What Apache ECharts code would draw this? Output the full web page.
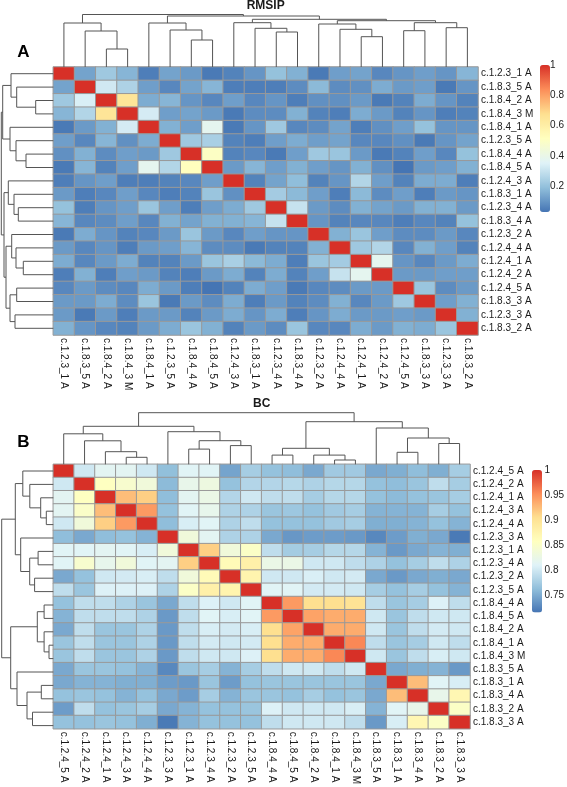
<!DOCTYPE html>
<html><head><meta charset="utf-8">
<script src="https://cdn.jsdelivr.net/npm/echarts@6/dist/echarts.min.js"></script>
<style>html,body{margin:0;padding:0;background:#fff}#c{width:567px;height:787px}</style>
</head><body><div id="c"></div>
<script>
// ---------------- DATA ----------------
const labelsA = ['c.1.2.3_1 A','c.1.8.3_5 A','c.1.8.4_2 A','c.1.8.4_3 M','c.1.8.4_1 A','c.1.2.3_5 A','c.1.8.4_4 A','c.1.8.4_5 A','c.1.2.4_3 A','c.1.8.3_1 A','c.1.2.3_4 A','c.1.8.3_4 A','c.1.2.3_2 A','c.1.2.4_4 A','c.1.2.4_1 A','c.1.2.4_2 A','c.1.2.4_5 A','c.1.8.3_3 A','c.1.2.3_3 A','c.1.8.3_2 A'];
const labelsB = ['c.1.2.4_5 A','c.1.2.4_2 A','c.1.2.4_1 A','c.1.2.4_3 A','c.1.2.4_4 A','c.1.2.3_3 A','c.1.2.3_1 A','c.1.2.3_4 A','c.1.2.3_2 A','c.1.2.3_5 A','c.1.8.4_4 A','c.1.8.4_5 A','c.1.8.4_2 A','c.1.8.4_1 A','c.1.8.4_3 M','c.1.8.3_5 A','c.1.8.3_1 A','c.1.8.3_4 A','c.1.8.3_2 A','c.1.8.3_3 A'];

// RMSIP matrix (rows top->bottom, columns left->right)
const rmsip = [
 [1,.13,.22,.17,.05,.13,.11,.04,.06,.10,.20,.16,.04,.12,.13,.07,.10,.12,.10,.17],
 [.13,1,.32,.25,.12,.07,.13,.17,.05,.05,.05,.08,.18,.08,.09,.15,.11,.12,.04,.10],
 [.22,.34,1,.65,.15,.17,.10,.07,.12,.07,.10,.05,.09,.09,.11,.04,.06,.15,.10,.06],
 [.17,.26,.65,1,.33,.12,.13,.11,.04,.08,.08,.16,.06,.05,.15,.11,.06,.10,.05,.06],
 [.04,.11,.16,.33,1,.16,.12,.38,.04,.10,.22,.07,.08,.13,.05,.09,.12,.20,.10,.10],
 [.12,.07,.17,.09,.15,1,.22,.24,.06,.05,.12,.15,.12,.13,.07,.07,.09,.04,.10,.13],
 [.09,.16,.08,.12,.11,.22,1,.50,.06,.07,.04,.12,.22,.21,.11,.04,.06,.12,.07,.20],
 [.04,.17,.06,.12,.38,.26,.52,1,.11,.17,.12,.16,.12,.10,.16,.09,.03,.11,.12,.16],
 [.05,.10,.12,.05,.05,.06,.07,.12,1,.06,.13,.19,.06,.10,.26,.12,.06,.15,.15,.05],
 [.11,.05,.07,.12,.07,.05,.06,.21,.09,1,.23,.18,.12,.05,.18,.08,.12,.05,.11,.10],
 [.20,.05,.10,.12,.21,.12,.05,.12,.15,.22,1,.30,.11,.08,.16,.13,.11,.16,.16,.11],
 [.17,.07,.08,.12,.07,.16,.13,.16,.16,.17,.30,1,.10,.06,.07,.07,.05,.07,.06,.20],
 [.04,.15,.10,.06,.07,.11,.21,.11,.07,.12,.10,.10,1,.16,.21,.12,.08,.08,.11,.07],
 [.11,.07,.10,.05,.11,.12,.17,.08,.08,.04,.06,.06,.16,1,.22,.26,.07,.16,.12,.06],
 [.15,.07,.11,.15,.06,.06,.11,.21,.24,.18,.15,.05,.21,.23,1,.38,.10,.07,.11,.15],
 [.05,.16,.05,.12,.11,.06,.05,.11,.15,.06,.15,.06,.12,.30,.38,1,.11,.11,.12,.12],
 [.07,.11,.08,.07,.15,.11,.05,.03,.06,.15,.12,.04,.07,.08,.11,.11,1,.21,.08,.11],
 [.11,.11,.15,.08,.21,.04,.11,.08,.15,.05,.11,.06,.08,.16,.07,.11,.22,1,.12,.16],
 [.11,.04,.11,.05,.11,.11,.06,.11,.15,.10,.15,.05,.10,.15,.11,.11,.12,.11,1,.16],
 [.16,.10,.07,.06,.11,.15,.21,.16,.06,.11,.08,.21,.07,.07,.15,.11,.16,.15,.21,1]
];

// BC matrix
const bc = [
 [1,.800,.815,.815,.800,.763,.812,.812,.745,.775,.765,.762,.748,.772,.772,.748,.752,.762,.752,.775],
 [.800,1,.856,.845,.835,.760,.822,.830,.765,.783,.783,.785,.780,.784,.784,.765,.762,.768,.790,.775],
 [.815,.856,1,.925,.915,.762,.815,.825,.783,.800,.790,.790,.775,.784,.784,.765,.760,.765,.768,.775],
 [.815,.850,.925,1,.945,.765,.812,.820,.780,.780,.768,.770,.765,.772,.775,.755,.755,.755,.775,.765],
 [.800,.835,.915,.945,1,.762,.805,.812,.780,.790,.765,.765,.765,.772,.775,.752,.752,.755,.765,.755],
 [.762,.748,.762,.765,.755,1,.835,.815,.780,.780,.748,.737,.740,.740,.738,.727,.740,.752,.748,.718],
 [.812,.812,.815,.812,.805,.835,1,.915,.835,.852,.790,.774,.775,.784,.784,.755,.738,.748,.755,.752],
 [.812,.845,.820,.835,.812,.815,.915,1,.865,.880,.825,.825,.800,.800,.790,.780,.765,.775,.790,.780],
 [.748,.765,.800,.802,.805,.790,.835,.865,1,.875,.800,.800,.806,.800,.802,.748,.738,.748,.752,.748],
 [.790,.768,.808,.808,.808,.780,.852,.880,.875,1,.812,.812,.802,.802,.800,.775,.765,.775,.765,.755],
 [.765,.790,.790,.780,.768,.748,.790,.808,.800,.812,1,.945,.905,.905,.900,.790,.768,.775,.808,.790],
 [.755,.790,.790,.790,.780,.738,.790,.812,.805,.812,.945,1,.940,.935,.935,.800,.768,.790,.800,.800],
 [.748,.790,.768,.768,.780,.738,.790,.805,.802,.805,.905,.940,1,.935,.935,.800,.768,.790,.802,.800],
 [.768,.790,.768,.768,.780,.738,.790,.802,.800,.802,.905,.935,.935,1,.955,.790,.768,.775,.800,.790],
 [.768,.790,.768,.768,.780,.738,.790,.800,.800,.808,.905,.935,.935,.955,1,.800,.768,.790,.805,.800],
 [.748,.768,.768,.765,.755,.727,.768,.775,.755,.775,.790,.800,.800,.790,.800,1,.748,.752,.755,.738],
 [.748,.755,.755,.752,.752,.740,.738,.768,.740,.765,.768,.768,.768,.768,.768,.748,1,.925,.812,.805],
 [.765,.768,.765,.755,.765,.748,.740,.775,.755,.768,.768,.765,.775,.765,.768,.748,.925,1,.822,.870],
 [.740,.790,.765,.768,.775,.748,.755,.765,.765,.768,.808,.800,.800,.800,.805,.755,.812,.822,1,.852],
 [.765,.765,.768,.765,.752,.718,.755,.765,.765,.765,.790,.800,.800,.800,.790,.738,.805,.870,.852,1]
];

// Dendrogram merges (hclust style): negative = leaf at display position (1-based), positive = earlier merge; third = height
const mergesAcol = [[-3,-4,18],[-2,1,36],[-1,2,44],[-7,-8,27],[-6,4,37],[-5,5,44],[-11,-12,35],[-10,7,38.7],[-9,8,44.3],
 [-15,-16,30.3],[-14,10,37.7],[-13,11,43],[-17,-18,36.3],[-19,-20,39.3],[13,14,44.3],[12,15,46.3],[9,16,47.7],[6,17,51],[3,18,52.5]];
const mergesArow = [[-3,-4,17.6],[-2,1,36.6],[-1,2,42.3],[-7,-8,27.3],[-6,4,37.3],[-5,5,43.3],[3,6,50.6],[-11,-12,35],[-10,8,39.3],
 [-9,9,45],[-15,-16,30],[-14,11,37.3],[-13,12,41.6],[-17,-18,36.6],[-19,-20,38.3],[14,15,43.3],[13,16,47.3],[10,17,49.3],[7,18,52]];
const mergesB = [[-4,-5,7],[-3,1,12.6],[-2,2,23.5],[-1,3,30.5],[-7,-8,15.2],[-9,-10,18.7],[5,6,23.6],[-6,7,32.6],[4,8,38],
 [-11,-12,9.2],[-14,-15,4.3],[-13,11,9.2],[10,12,16],[-17,-18,12],[-19,-20,20.8],[14,15,26.3],[-16,16,36.3],[13,17,42.6],[9,18,51.6]];

const ticksA = [0.2,0.4,0.6,0.8,1];
const ticksB = [0.75,0.8,0.85,0.9,0.95,1];
const rangeA = [0.03, 1];
const rangeB = [0.715, 1];

// ---------------- BUILD ----------------
const palette = ['#4575B4','#91BFDB','#E0F3F8','#FFFFBF','#FEE090','#FC8D59','#D73027'];
const FONT = 'Liberation Sans, Arial, sans-serif';
const TXT = '#1a1a1a';

function flatten(m){ const out=[]; m.forEach((row,r)=>row.forEach((v,c)=>out.push([c,r,v]))); return out; }
function segments(merges){
  const pos=[], ht=[], segs=[];
  merges.forEach(([a,b,h])=>{
    const pa = a<0 ? -a-0.5 : pos[a-1], ha = a<0 ? 0 : ht[a-1];
    const pb = b<0 ? -b-0.5 : pos[b-1], hb = b<0 ? 0 : ht[b-1];
    segs.push([pa,pb,ha,hb,h]); pos.push((pa+pb)/2); ht.push(h);
  });
  return segs;
}
const lineStyle = {stroke:'#555', lineWidth:1, fill:null};
function renderTop(params, api){
  const xa=api.value(0), xb=api.value(1), ha=api.value(2), hb=api.value(3), h=api.value(4);
  return {type:'polyline', silent:true, shape:{points:[api.coord([xa,ha]),api.coord([xa,h]),api.coord([xb,h]),api.coord([xb,hb])]}, style:lineStyle};
}
function renderLeft(params, api){
  const xa=api.value(0), xb=api.value(1), ha=api.value(2), hb=api.value(3), h=api.value(4);
  return {type:'polyline', silent:true, shape:{points:[api.coord([ha,xa]),api.coord([h,xa]),api.coord([h,xb]),api.coord([hb,xb])]}, style:lineStyle};
}

const GA = {left:53.3, top:67, w:424.7, h:268};
const GB = {left:53.3, top:464.3, w:416.7, h:268};
const DH = 57;

const hide = {show:false};
function heatX(labels, gi){ return {type:'category', gridIndex:gi, data:labels, position:'bottom',
  axisLine:hide, axisTick:hide, splitLine:hide, splitArea:hide,
  axisLabel:{interval:0, rotate:-90, margin:3, fontSize:10, fontFamily:FONT, color:TXT}}; }
function heatY(labels, gi){ return {type:'category', gridIndex:gi, data:labels, inverse:true, position:'right',
  axisLine:hide, axisTick:hide, splitLine:hide, splitArea:hide,
  axisLabel:{interval:0, margin:3, fontSize:10, fontFamily:FONT, color:TXT}}; }
function valAxis(gi, min, max, inverse){ return {type:'value', gridIndex:gi, min, max, inverse:!!inverse, show:false}; }
function barAxis(gi, min, max, interval, ticks){ return {type:'value', gridIndex:gi, min, max, interval, position:'right',
  axisLine:hide, axisTick:hide, splitLine:hide,
  axisLabel:{margin:3, fontSize:10, fontFamily:FONT, color:TXT,
    formatter:v=>{ const r=+v.toFixed(3); return ticks.some(t=>Math.abs(t-r)<1e-6) ? String(r) : ''; }}}; }

const option = {
  animation:false,
  backgroundColor:'#fff',
  grid:[
    {left:GA.left, top:GA.top, width:GA.w, height:GA.h},
    {left:GA.left, top:GA.top-DH, width:GA.w, height:DH},
    {left:0, top:GA.top, width:GA.left, height:GA.h},
    {left:540, top:65, width:10, height:147/0.97},
    {left:GB.left, top:GB.top, width:GB.w, height:GB.h},
    {left:GB.left, top:GB.top-DH, width:GB.w, height:DH},
    {left:0, top:GB.top, width:GB.left, height:GB.h},
    {left:532, top:470, width:10, height:150}
  ],
  xAxis:[
    heatX(labelsA,0), valAxis(1,0,20), valAxis(2,0,GA.left,true), valAxis(3,0,1),
    heatX(labelsB,4), valAxis(5,0,20), valAxis(6,0,GB.left,true), valAxis(7,0,1)
  ],
  yAxis:[
    heatY(labelsA,0), valAxis(1,0,DH), valAxis(2,0,20,true), barAxis(3,0,1,0.2,ticksA),
    heatY(labelsB,4), valAxis(5,0,DH), valAxis(6,0,20,true), barAxis(7,0.7,1,0.05,ticksB)
  ],
  visualMap:[
    {type:'continuous', seriesIndex:0, min:rangeA[0], max:rangeA[1], left:540, top:65, itemWidth:10, itemHeight:147,
     padding:0, calculable:false, hoverLink:false, text:null, inRange:{color:palette}},
    {type:'continuous', seriesIndex:3, min:rangeB[0], max:rangeB[1], left:532, top:470, itemWidth:10, itemHeight:142.5,
     padding:0, calculable:false, hoverLink:false, text:null, inRange:{color:palette}}
  ],
  series:[
    {type:'heatmap', xAxisIndex:0, yAxisIndex:0, data:flatten(rmsip), itemStyle:{borderColor:'#999', borderWidth:1}, emphasis:{disabled:true}},
    {type:'custom', xAxisIndex:1, yAxisIndex:1, data:segments(mergesAcol), renderItem:renderTop, silent:true},
    {type:'custom', xAxisIndex:2, yAxisIndex:2, data:segments(mergesArow), renderItem:renderLeft, silent:true},
    {type:'heatmap', xAxisIndex:4, yAxisIndex:4, data:flatten(bc), itemStyle:{borderColor:'#999', borderWidth:1}, emphasis:{disabled:true}},
    {type:'custom', xAxisIndex:5, yAxisIndex:5, data:segments(mergesB), renderItem:renderTop, silent:true},
    {type:'custom', xAxisIndex:6, yAxisIndex:6, data:segments(mergesB), renderItem:renderLeft, silent:true}
  ],
  graphic:[
    {type:'text', x:GA.left+GA.w/2, y:6, style:{text:'RMSIP', font:'bold 12px '+FONT, fill:TXT, textAlign:'center', textVerticalAlign:'middle'}},
    {type:'text', x:GB.left+GB.w/2, y:404, style:{text:'BC', font:'bold 12px '+FONT, fill:TXT, textAlign:'center', textVerticalAlign:'middle'}},
    {type:'text', x:23.5, y:52, style:{text:'A', font:'bold 17px '+FONT, fill:'#000', textAlign:'center', textVerticalAlign:'middle'}},
    {type:'text', x:23.5, y:442.5, style:{text:'B', font:'bold 17px '+FONT, fill:'#000', textAlign:'center', textVerticalAlign:'middle'}}
  ]
};
const chart = echarts.init(document.getElementById('c'));
chart.setOption(option);
</script></body></html>
